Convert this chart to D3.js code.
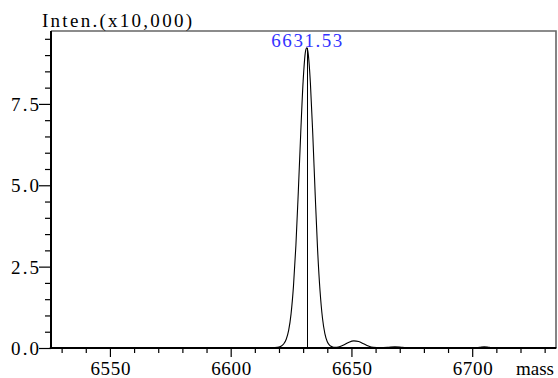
<!DOCTYPE html>
<html><head><meta charset="utf-8">
<script src="https://cdn.jsdelivr.net/npm/d3@7"></script>
<style>
html,body{margin:0;padding:0;background:#fff;}
svg{display:block;}
text{font-family:"Liberation Serif","DejaVu Serif",serif;}
</style></head>
<body>
<svg id="c" width="558" height="378"></svg>
<script>
// Spectrum samples (mass, intensity in x10,000)
const masses = [6525,6560,6600,6615,6618,6620,6621,6622,6623,6624,6625,6626,6627,6628,6629,6630,6631,6631.53,6632,6633,6634,6635,6636,6637,6638,6639,6640,6641,6642,6643,6645,6647,6649,6651,6653,6655,6657,6659,6662,6665,6668,6671,6674,6690,6700,6703,6705,6707,6710,6735];
const intensity = [0,0,0,0,0.01,0.03,0.06,0.13,0.27,0.54,1.05,1.90,3.15,4.80,6.60,8.20,9.12,9.22,9.10,8.15,6.55,4.70,3.00,1.75,0.92,0.44,0.19,0.08,0.04,0.02,0.04,0.10,0.18,0.22,0.20,0.13,0.06,0.02,0.01,0.02,0.04,0.02,0.0,0.0,0.0,0.02,0.04,0.02,0.0,0];
const peakMass = 6631.53;
const peakIntensity = 9.22;
const peakLabel = "6631.53";
const xMajorTicks = [6550,6600,6650,6700];
const xMinorTicks = [6530,6540,6560,6570,6580,6590,6610,6620,6630,6640,6660,6670,6680,6690,6710,6720,6730];
const yMajorTicks = [0,2.5,5.0,7.5];
const yMinorTicks = [0.5,1.0,1.5,2.0,3.0,3.5,4.0,4.5,5.5,6.0,6.5,7.0,8.0,8.5,9.0,9.5];
const yTitle = "Inten.(x10,000)";
const xTitle = "mass";

const svg = d3.select("#c");
const L = 51, R = 556, T = 31, B = 348;
const FS = 19;
const CW = 10; // character cell width of the reference's monospaced font
const x = d3.scaleLinear().domain([6525.6, 6734.7]).range([L, R]);
const y = d3.scaleLinear().domain([0, 9.74]).range([B, T]);

// frame top/right (gray)
svg.append("path").attr("d", `M${L},${T}H${R}V${B}`).attr("fill","none").attr("stroke","#666").attr("stroke-width",1.6);

// curve
const pts = masses.map((m,i)=>[m,intensity[i]]);
svg.append("path").datum(pts)
  .attr("d", d3.line().x(d=>x(d[0])).y(d=>y(d[1])).curve(d3.curveMonotoneX))
  .attr("fill","none").attr("stroke","#000").attr("stroke-width",1.1);

// peak marker
svg.append("line").attr("x1",Math.round(x(peakMass))+0.5).attr("x2",Math.round(x(peakMass))+0.5)
  .attr("y1",y(peakIntensity)).attr("y2",B).attr("stroke","#000").attr("stroke-width",1);
svg.append("text").attr("x",x(peakMass)).attr("y",y(peakIntensity)-0.5)
  .attr("text-anchor","middle").attr("fill","#3333ff").attr("font-size",FS)
  .attr("textLength", peakLabel.length*CW+1).attr("lengthAdjust","spacing").text(peakLabel);

// Y axis
const yAxisMajor = d3.axisLeft(y).tickValues(yMajorTicks).tickSize(12).tickPadding(0).tickFormat(d3.format(".1f"));
const yAxisMinor = d3.axisLeft(y).tickValues(yMinorTicks).tickSize(6).tickFormat("");
const gy = svg.append("g").attr("transform",`translate(${L},0)`);
gy.call(yAxisMajor);
svg.append("g").attr("transform",`translate(${L},0)`).call(yAxisMinor);
gy.selectAll("text").attr("font-size",FS).attr("fill","#000").attr("dy","0.34em")
  .attr("textLength",28).attr("lengthAdjust","spacing");

// X axis
const xAxisMajor = d3.axisBottom(x).tickValues(xMajorTicks).tickSize(9).tickPadding(4).tickFormat(d3.format("d"));
const xAxisMinor = d3.axisBottom(x).tickValues(xMinorTicks).tickSize(5).tickFormat("");
const gx = svg.append("g").attr("transform",`translate(0,${B})`);
gx.call(xAxisMajor);
svg.append("g").attr("transform",`translate(0,${B})`).call(xAxisMinor);
gx.selectAll("text").attr("font-size",FS).attr("fill","#000").attr("dy",null)
  .attr("y",27).attr("textLength",40).attr("lengthAdjust","spacing");

svg.selectAll(".domain").remove();
svg.selectAll(".tick line").attr("stroke","#000").attr("stroke-width",1.2);
// axis lines
svg.append("line").attr("x1",L).attr("x2",L).attr("y1",T).attr("y2",B+1).attr("stroke","#000").attr("stroke-width",2);
svg.append("line").attr("x1",L-1).attr("x2",R).attr("y1",B).attr("y2",B).attr("stroke","#000").attr("stroke-width",2);

// titles
svg.append("text").attr("x",42).attr("y",27).attr("font-size",FS).attr("fill","#000")
  .attr("textLength",150).attr("lengthAdjust","spacing").text(yTitle);
svg.append("text").attr("x",516).attr("y",375).attr("font-size",FS).attr("fill","#000")
  .attr("textLength",38).attr("lengthAdjust","spacing").text(xTitle);
</script>
</body></html>
